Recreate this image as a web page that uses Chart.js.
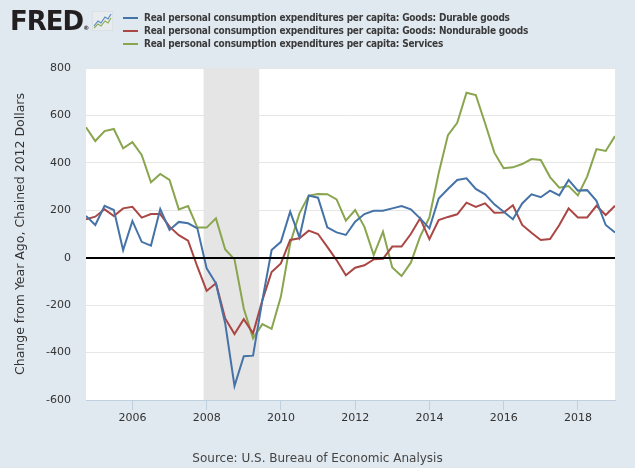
<!DOCTYPE html>
<html>
<head>
<meta charset="utf-8">
<script src="https://cdn.jsdelivr.net/npm/chart.js@4.4.0/dist/chart.umd.min.js"></script>
<style>
  html, body { margin: 0; padding: 0; background: #e1e9f0; }
  #wrap { position: relative; width: 635px; height: 468px; overflow: hidden; }
  #chart { position: absolute; left: 0; top: 0; }
  #logo { position: absolute; left: 10px; top: 6px; font: bold 26px "DejaVu Sans", sans-serif;
          letter-spacing: -1px; color: #231f20; }
  #logo sup { font-size: 6px; letter-spacing: 0; vertical-align: 0; }
  #icon { position: absolute; left: 92px; top: 11px; width: 21px; height: 20px; }
  #legend { position: absolute; left: 123px; top: 11px; font: bold 10px "DejaVu Sans Condensed", sans-serif;
            letter-spacing: -0.22px; color: #3a3a3a; }
  #legend div { height: 13px; line-height: 13px; white-space: nowrap; }
  #legend span.key { display: inline-block; width: 15px; height: 2px; vertical-align: middle; margin-right: 6px; }
  #source { position: absolute; left: 0; width: 635px; top: 451px; text-align: center;
            font: 12px "DejaVu Sans", sans-serif; color: #444; }
</style>
</head>
<body>
<div id="wrap">
  <canvas id="chart" width="635" height="468"></canvas>
  <div id="logo">FRED<sup>&reg;</sup></div>
  <svg id="icon" viewBox="0 0 21 20">
    <rect x="0" y="0" width="21" height="20" fill="#e8ecef" stroke="#d0d6dc"/>
    <polyline points="2,15 6,10 9,12 13,6 16,8 19,3" fill="none" stroke="#5b8bc2" stroke-width="1.2"/>
    <polyline points="2,17 6,13 9,15 13,10 16,12 19,7" fill="none" stroke="#8fae5a" stroke-width="1.2"/>
  </svg>
  <div id="legend"></div>
  <div id="source">Source: U.S. Bureau of Economic Analysis</div>
</div>
<script>
// quarterly observations
const quarters = [
  "2004-10-01",
  "2005-01-01", "2005-04-01", "2005-07-01", "2005-10-01",
  "2006-01-01", "2006-04-01", "2006-07-01", "2006-10-01",
  "2007-01-01", "2007-04-01", "2007-07-01", "2007-10-01",
  "2008-01-01", "2008-04-01", "2008-07-01", "2008-10-01",
  "2009-01-01", "2009-04-01", "2009-07-01", "2009-10-01",
  "2010-01-01", "2010-04-01", "2010-07-01", "2010-10-01",
  "2011-01-01", "2011-04-01", "2011-07-01", "2011-10-01",
  "2012-01-01", "2012-04-01", "2012-07-01", "2012-10-01",
  "2013-01-01", "2013-04-01", "2013-07-01", "2013-10-01",
  "2014-01-01", "2014-04-01", "2014-07-01", "2014-10-01",
  "2015-01-01", "2015-04-01", "2015-07-01", "2015-10-01",
  "2016-01-01", "2016-04-01", "2016-07-01", "2016-10-01",
  "2017-01-01", "2017-04-01", "2017-07-01", "2017-10-01",
  "2018-01-01", "2018-04-01", "2018-07-01", "2018-10-01",
  "2019-01-01"
];

const durable = [176, 138, 219, 201, 32, 155, 67, 51, 205, 117,
  151, 145, 124, -45, -108, -277, -541, -415, -413, -180,
  32, 67, 194, 86, 262, 253, 128, 107, 96, 152,
  184, 198, 198, 208, 218, 204, 166, 124, 250, 290,
  328, 335, 290, 267, 225, 194, 162, 229, 267, 255,
  283, 263, 328, 283, 285, 240, 138, 106];

const nondurable = [162, 173, 204, 176, 208, 215, 169, 184, 184, 131,
  95, 72, -38, -140, -108, -256, -322, -259, -319, -180,
  -60, -24, 75, 82, 114, 100, 46, -10, -74, -42,
  -32, -7, -5, 47, 47, 100, 166, 78, 159, 172,
  183, 232, 214, 229, 190, 191, 221, 138, 105, 75,
  79, 138, 208, 170, 170, 219, 180, 219];

const services = [550, 492, 534, 543, 461, 487, 433, 318, 353, 328,
  204, 218, 127, 127, 166, 35, -7, -214, -340, -280,
  -300, -164, 60, 187, 262, 269, 268, 246, 156, 201,
  130, 11, 110, -41, -77, -21, 89, 170, 356, 517,
  569, 696, 686, 567, 443, 377, 381, 395, 416, 412,
  340, 295, 302, 263, 342, 458, 450, 513];

const seriesNames = [
  "Real personal consumption expenditures per capita: Goods: Durable goods",
  "Real personal consumption expenditures per capita: Goods: Nondurable goods",
  "Real personal consumption expenditures per capita: Services"
];
const seriesColors = ["#4572a7", "#aa4643", "#89a54e"];

const yearTicks = [2006, 2008, 2010, 2012, 2014, 2016, 2018];
const yTicks = [-600, -400, -200, 0, 200, 400, 600, 800];
const recession = ["2007-12-01", "2009-06-01"];
const yTitle = "Change from Year Ago, Chained 2012 Dollars";

// date string -> decimal year
function toYear(d) {
  const p = d.split("-");
  return +p[0] + (+p[1] - 1) / 12;
}

const xs = quarters.map(toYear);
const allSeries = [durable, nondurable, services];

// legend in the header
const legend = document.getElementById("legend");
seriesNames.forEach((name, i) => {
  const row = document.createElement("div");
  row.innerHTML = '<span class="key" style="background:' + seriesColors[i] + '"></span>' + name;
  legend.appendChild(row);
});

const fredPlugin = {
  id: "fred",
  beforeDraw(chart) {
    const { ctx, chartArea: a } = chart;
    ctx.save();
    ctx.fillStyle = "#ffffff";
    ctx.fillRect(a.left, a.top, a.right - a.left, a.bottom - a.top);
    ctx.restore();
  },
  beforeDatasetsDraw(chart) {
    const { ctx, chartArea: a, scales } = chart;
    const x1 = scales.x.getPixelForValue(toYear(recession[0]));
    const x2 = scales.x.getPixelForValue(toYear(recession[1]));
    ctx.save();
    ctx.fillStyle = "#e5e5e5";
    ctx.fillRect(x1, a.top, x2 - x1, a.bottom - a.top);
    ctx.restore();
  },
  afterDatasetsDraw(chart) {
    const { ctx, chartArea: a, scales } = chart;
    const y0 = Math.round(scales.y.getPixelForValue(0));
    ctx.save();
    ctx.strokeStyle = "#000000";
    ctx.lineWidth = 2;
    ctx.beginPath();
    ctx.moveTo(a.left, y0);
    ctx.lineTo(a.right, y0);
    ctx.stroke();
    ctx.restore();
  }
};

new Chart(document.getElementById("chart"), {
  type: "line",
  plugins: [fredPlugin],
  data: {
    datasets: allSeries.map((vals, i) => ({
      label: seriesNames[i],
      data: vals.map((v, j) => ({ x: xs[j], y: v })),
      borderColor: seriesColors[i],
      borderWidth: 2,
      pointRadius: 0,
      tension: 0,
      fill: false
    }))
  },
  options: {
    responsive: false,
    animation: false,
    layout: { padding: { top: 68, right: 20, bottom: 0, left: 0 } },
    plugins: {
      legend: { display: false },
      tooltip: { enabled: false }
    },
    scales: {
      x: {
        type: "linear",
        min: toYear(quarters[0]),
        max: toYear(quarters[quarters.length - 1]),
        afterBuildTicks: (s) => { s.ticks = yearTicks.map(v => ({ value: v })); },
        afterFit: (s) => { s.height = 68; },
        grid: { drawOnChartArea: false, drawTicks: true, tickLength: 10, color: "#c0d0e0" },
        border: { display: true, color: "#c0d0e0", width: 1 },
        ticks: {
          padding: 2,
          maxRotation: 0,
          color: "#333",
          font: { family: "DejaVu Sans", size: 11 },
          callback: (v) => String(v)
        }
      },
      y: {
        min: -600,
        max: 800,
        afterBuildTicks: (s) => { s.ticks = yTicks.map(v => ({ value: v })); },
        afterFit: (s) => { s.width = 86; },
        grid: { color: "#e6e6e6", drawTicks: false },
        border: { display: false },
        ticks: {
          padding: 15,
          color: "#333",
          font: { family: "DejaVu Sans", size: 11 }
        },
        title: {
          display: true,
          text: yTitle,
          color: "#333",
          font: { family: "DejaVu Sans", size: 12.5 },
          padding: { top: 13, bottom: 0 }
        }
      }
    }
  }
});
</script>
</body>
</html>
